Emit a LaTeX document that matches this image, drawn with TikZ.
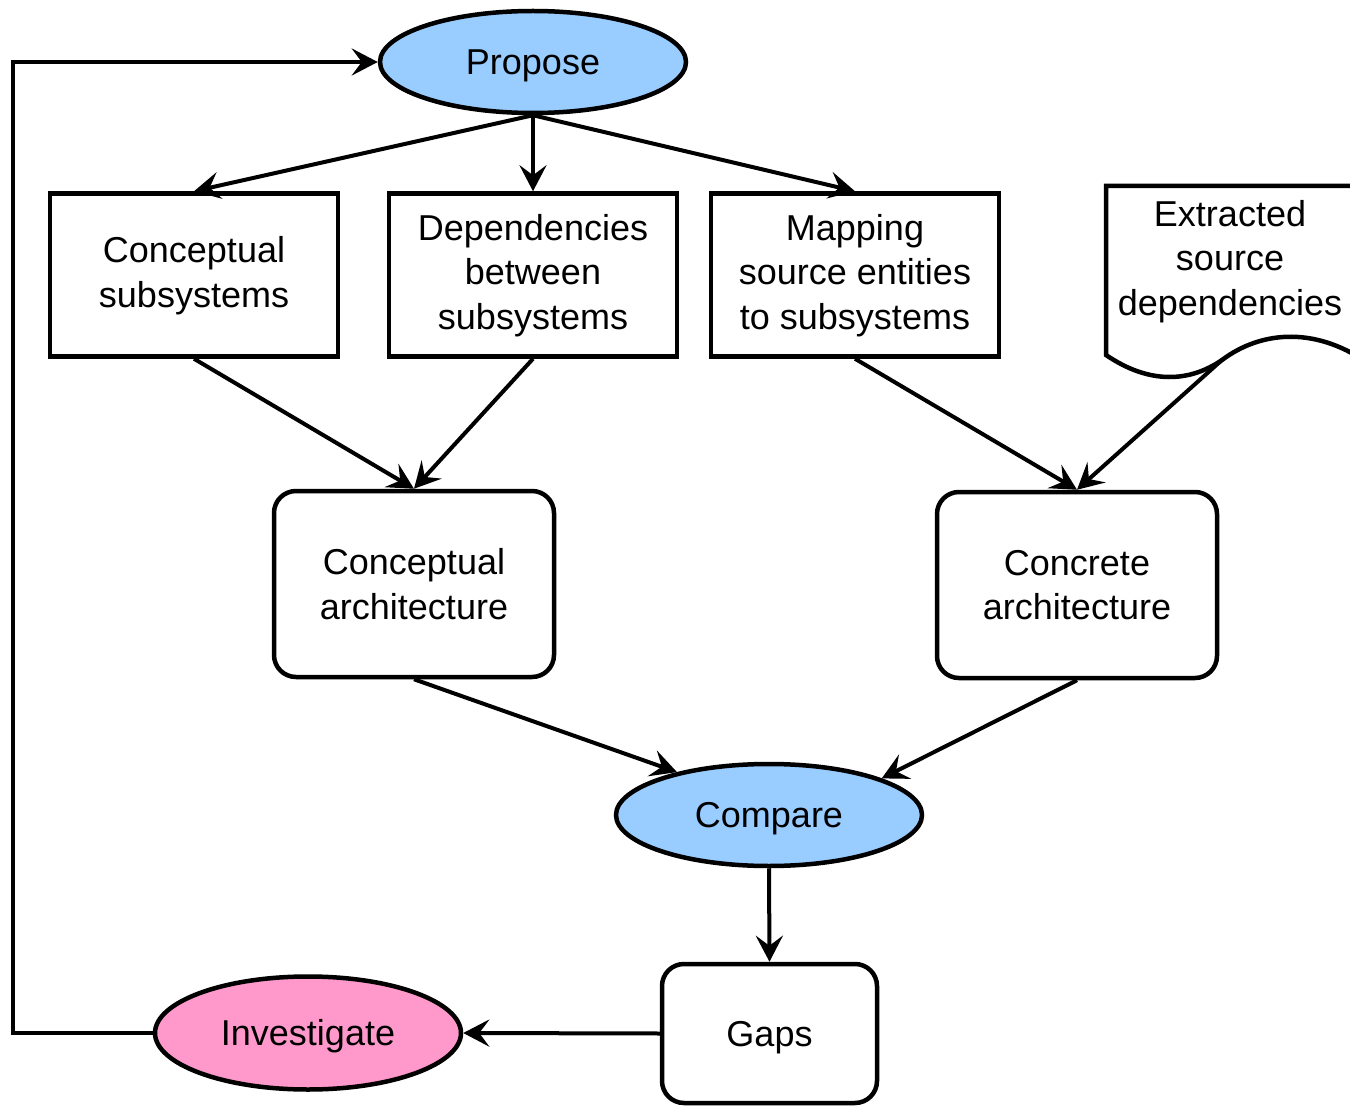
\documentclass[tikz,border=0pt]{standalone}
\usepackage{fontspec}
\setmainfont{Liberation Sans}
\usetikzlibrary{shapes.geometric,arrows.meta}
\definecolor{stepblue}{HTML}{99CCFF}
\definecolor{steppink}{HTML}{FF99CC}
\newcommand{\stacklines}[1]{\raisebox{-1pt}[\height][\depth]{\begin{tabular}{@{}c@{}}#1\end{tabular}}}
\tikzset{
  every node/.style={execute at begin node={\rule{0pt}{33pt}}},
  flow/.style={line width=4pt,-{Stealth[length=26pt,width=27pt,inset=10pt]}},
  stepoval/.style={ellipse,draw,line width=4.5pt,fill=stepblue,minimum width=306pt,minimum height=102pt},
  sourcebox/.style={rectangle,draw,line width=4.5pt,minimum width=288pt,minimum height=163pt},
  archbox/.style={rectangle,draw,line width=4.5pt,rounded corners=22pt,minimum width=280pt,minimum height=186pt,align=center}
}
\begin{document}
\begin{tikzpicture}[x=1pt,y=-1pt,font=\fontsize{36}{44.5}\selectfont]
				  \useasboundingbox (0,0) rectangle (1350,1107);
				  \clip (0,0) rectangle (1350,1107);
				  %STEPS
				  \node[stepoval] (pro) at (533,62) {Propose};
				  \node[stepoval] (cmp) at (769,815) {Compare};
				  \node[stepoval,fill=steppink,minimum height=113pt] (inv) at (308,1033) {Investigate};
				  %INPUTS
				  \node[sourcebox] (cs) at (194,275) {\stacklines{Conceptual\\subsystems}};
				  \node[sourcebox] (dep) at (533,275) {\stacklines{Dependencies\\between\\subsystems}};
				  \node[sourcebox] (map) at (855,275) {\stacklines{Mapping\\source entities\\to subsystems}};
				  %DOCUMENT (cut at the right edge)
				  \draw[line width=4.5pt] (1370,186) -- (1106,186) -- (1106,355)
				    .. controls (1150,385) and (1190,382) .. (1222,360)
				    .. controls (1262,330) and (1318,326) .. (1372,366);
				  \coordinate (docout) at (1222,360);
				  \node (doc) at (1230,261) {\stacklines{Extracted\\source\\dependencies}};
				  %ARCHITECTURES
				  \node[archbox] (ca) at (414,584) {Conceptual\\architecture};
				  \node[archbox] (ra) at (1077,585) {Concrete\\architecture};
				  \node[archbox,minimum width=215pt,minimum height=139pt] (gap) at (769.5,1033.5) {Gaps};
				  %EDGES
				  \draw[flow] (pro.south) -- (cs.north);
				  \draw[flow] (pro.south) -- (dep.north);
				  \draw[flow] (pro.south) -- (map.north);
				  \draw[flow] (cs.south) -- (ca.north);
				  \draw[flow] (dep.south) -- (ca.north);
				  \draw[flow] (map.south) -- (ra.north);
				  \draw[flow] (docout) -- (ra.north);
				  \draw[flow] (ca.south) -- (cmp.155);
				  \draw[flow] (ra.south) -- (cmp.18);
				  \draw[flow] (cmp.south) -- (gap.north);
				  \draw[flow] (gap.west) -- (inv.east);
				  %LOOP BACK
				  \coordinate (loop) at (13,1033);
				  \draw[flow] (inv.west) -- (loop) |- (pro.west);
\end{tikzpicture}
\end{document}
